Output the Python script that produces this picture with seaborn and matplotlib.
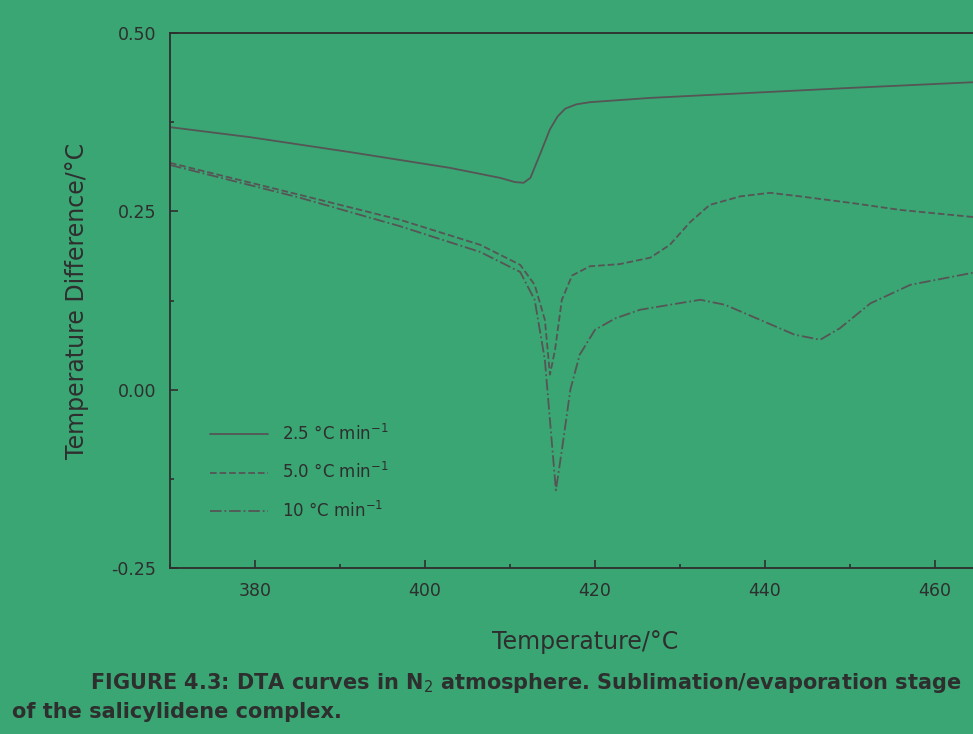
import numpy as np
import pandas as pd
import matplotlib
matplotlib.use("Agg")
import matplotlib.pyplot as plt
import seaborn as sns
from matplotlib.ticker import MultipleLocator

# Curvas DTA (temperatura em °C, diferença em °C)
temp_25 = [370.0, 379.4, 391.2, 402.9, 408.8, 410.6, 411.6, 412.4, 413.5, 414.7,
           415.6, 416.5, 417.8, 419.4, 426.5, 438.2, 450.0, 464.5, 468.0]
diff_25 = [0.368, 0.354, 0.333, 0.311, 0.297, 0.291, 0.290, 0.297, 0.329, 0.365,
           0.383, 0.394, 0.400, 0.403, 0.409, 0.416, 0.423, 0.431, 0.433]

temp_5 = [370.0, 385.3, 397.1, 406.5, 411.2, 412.9, 414.1, 414.7, 415.3, 416.1,
          417.3, 419.4, 422.9, 426.5, 428.8, 431.2, 433.5, 437.1, 440.6, 444.1,
          450.0, 455.9, 464.5, 468.0]
diff_5 = [0.318, 0.273, 0.238, 0.203, 0.175, 0.147, 0.098, 0.021, 0.056, 0.126,
          0.160, 0.173, 0.176, 0.185, 0.203, 0.235, 0.259, 0.271, 0.276, 0.271,
          0.262, 0.252, 0.242, 0.238]

temp_10 = [370.0, 385.3, 397.1, 406.5, 411.2, 412.9, 414.1, 414.8, 415.4, 416.1,
           417.1, 418.2, 420.0, 422.4, 425.3, 428.8, 432.4, 435.3, 439.4, 443.5,
           446.5, 448.8, 452.4, 457.1, 464.5, 468.0]
diff_10 = [0.315, 0.269, 0.229, 0.193, 0.165, 0.126, 0.042, -0.057, -0.141, -0.085,
           0.000, 0.049, 0.084, 0.100, 0.112, 0.119, 0.126, 0.119, 0.098, 0.077,
           0.070, 0.086, 0.121, 0.147, 0.164, 0.166]

labels = ["2.5 °C min$^{-1}$", "5.0 °C min$^{-1}$", "10 °C min$^{-1}$"]
x_ticks = [380, 400, 420, 440, 460]
y_ticks = [0.50, 0.25, 0.00, -0.25]

bg = "#3aa674"
ink = "#2e2e2e"
line_color = "#555555"

sns.set_theme(style="ticks")
plt.rcParams['font.family'] = ['DejaVu Sans']

fig = plt.figure(figsize=(9.73, 7.34), dpi=100, facecolor=bg)
ax = fig.add_axes([170 / 973, 1 - 568 / 734, 830 / 973, 535 / 734])
ax.set_facecolor(bg)

series = [(temp_25, diff_25, "-"), (temp_5, diff_5, "--"), (temp_10, diff_10, "-.")]
for (t, d, ls), lab in zip(series, labels):
    sns.lineplot(x=t, y=d, ax=ax, color=line_color, linestyle=ls, linewidth=1.3,
                 label=lab)

ax.set_xlim(370, 370 + 830 / 8.5)
ax.set_ylim(-0.25, 0.50)
ax.set_xticks(x_ticks)
ax.set_yticks(y_ticks)
ax.set_yticklabels([f"{v:.2f}" for v in y_ticks])
ax.xaxis.set_minor_locator(MultipleLocator(10))
ax.yaxis.set_minor_locator(MultipleLocator(0.125))
ax.tick_params(which="both", direction="in", colors=ink, labelsize=12.5, width=1.2)
ax.tick_params(which="major", length=6, pad=10)
ax.tick_params(which="minor", length=3)
for sp in ax.spines.values():
    sp.set_color(ink)
    sp.set_linewidth(1.3)

ax.set_xlabel("Temperature/°C", fontsize=17, color=ink, labelpad=22)
ax.set_ylabel("Temperature Difference/°C", fontsize=17, color=ink, labelpad=16)

leg = ax.legend(loc="lower left", bbox_to_anchor=(0.03, 0.06), frameon=False,
                fontsize=12, handlelength=3.5, labelspacing=1.1)
for txt in leg.get_texts():
    txt.set_color(ink)

fig.text(90 / 973, 1 - 683 / 734,
         "FIGURE 4.3: DTA curves in N$_2$ atmosphere. Sublimation/evaporation stage",
         fontsize=15, color=ink, va="center", fontweight="bold")
fig.text(12 / 973, 1 - 712 / 734, "of the salicylidene complex.",
         fontsize=15, color=ink, va="center", fontweight="bold")

fig.savefig("out.png", dpi=100, facecolor=bg)
